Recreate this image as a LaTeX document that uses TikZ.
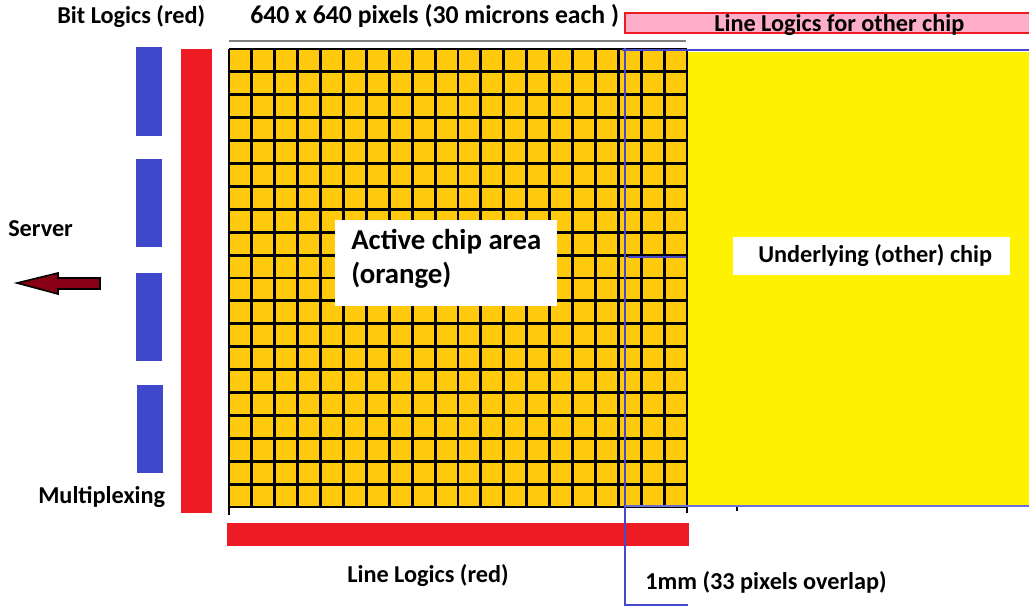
\documentclass[tikz,border=0pt]{standalone}
\usepackage{fontspec}
\setmainfont{Carlito}
\definecolor{chiporange}{RGB}{255,201,14}
\definecolor{chipyellow}{RGB}{255,242,0}
\definecolor{logicred}{RGB}{237,28,36}
\definecolor{muxblue}{RGB}{63,72,204}
\definecolor{edgeblue}{RGB}{72,72,204}
\definecolor{pinkfill}{RGB}{255,174,201}
\definecolor{arrowred}{RGB}{136,0,21}
\begin{document}
\begin{tikzpicture}[x=0.75pt,y=-0.75pt,
  lbl/.style={font=\bfseries\fontsize{18.2}{21}\selectfont, inner sep=0pt, anchor=base west},
  biglbl/.style={font=\bfseries\fontsize{21.6}{25}\selectfont, inner sep=0pt, anchor=base west},
  gridline/.style={line width=2.2pt},
  overlap/.style={edgeblue, line width=1.9pt}]
\useasboundingbox (0,0) rectangle (1029,608);
\fill[white] (0,0) rectangle (1029,608);

% underlying (other) chip
\fill[chipyellow] (688,52) rectangle (1029,505);

% active chip area: 20 x 20 pixel grid
\fill[chiporange] (229,49) rectangle (687,507);
\foreach \i in {0,...,20} {
  \draw[gridline] (229+\i*22.9,49) -- (229+\i*22.9,507);
  \draw[gridline] (229,49+\i*22.9) -- (687,49+\i*22.9);
}
\draw[gridline] (229,49) -- (229,515);
\draw[gridline] (687,507) -- (687,513);
\draw[line width=1pt] (737,505) -- (737,511);

% scale bar above the grid
\draw[gray, line width=2.2pt] (229,41) -- (686,41);

% bit logics and multiplexing bars
\fill[logicred] (181,49) rectangle (212,513);
\fill[muxblue] (136,47) rectangle (162,136);
\fill[muxblue] (136,159) rectangle (162,247);
\fill[muxblue] (136,273) rectangle (162,361);
\fill[muxblue] (137,385) rectangle (163,473);

% line logics bar
\fill[logicred] (227,523) rectangle (689,546);

% line logics for the other chip
\draw[logicred, fill=pinkfill, line width=0.9pt] (625,13) rectangle (1034,33);

% overlap outline
\draw[overlap] (625,48) -- (625,605) -- (688,605);
\draw[overlap] (622,50) -- (1029,50);
\draw[edgeblue!80, line width=1.1pt] (625,506) -- (1029,506);
\draw[overlap] (628,257) -- (686,257);

% output to the server
\draw[fill=arrowred, line width=1.2pt, line join=miter]
  (100,278) -- (58,278) -- (58,273) -- (17,283) -- (58,294) -- (58,289) -- (100,289) -- cycle;

% label boxes
\fill[white] (335,220) rectangle (557,306);
\fill[white] (733,237) rectangle (1010,275);

% labels
\node[lbl] (bitlog) at (57,23) {Bit Logics (red)};
\node[lbl, font=\bfseries\fontsize{19.3}{22}\selectfont] (pixels) at (250,23) {640 x 640 pixels (30 microns each )};
\node[lbl] (otherlog) at (714,31) {Line Logics for other chip};
\node[lbl] (server) at (8,236) {Server};
\node[lbl] (mux) at (38,503) {Multiplexing};
\node[lbl] (linelog) at (347,582) {Line Logics (red)};
\node[lbl] (overlapl) at (645,589) {1mm (33 pixels overlap)};
\node[lbl] (under) at (758,262) {Underlying (other) chip};
\node[biglbl] (active1) at (351,249) {Active chip area};
\node[biglbl] (active2) at (351,283) {(orange)};
\end{tikzpicture}
\end{document}
